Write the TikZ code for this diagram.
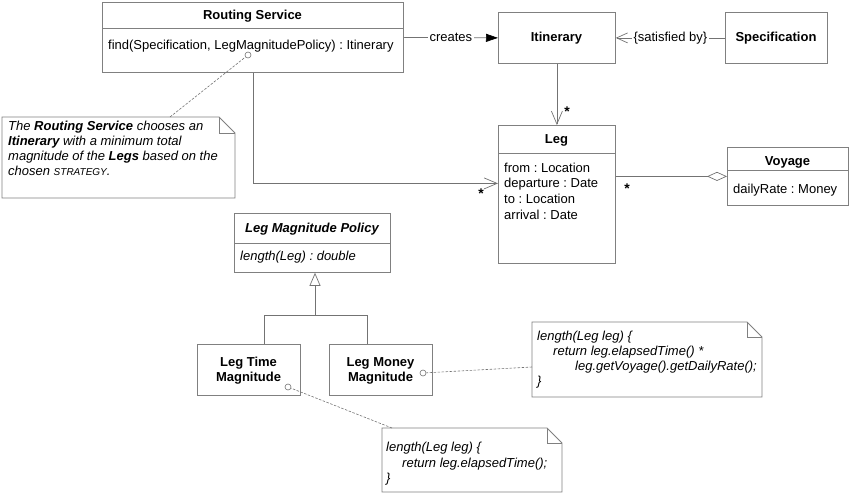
\documentclass[tikz,border=0pt]{standalone}
\usepackage{fontspec}
\setmainfont{Liberation Sans}
\usetikzlibrary{arrows.meta}
\definecolor{boxc}{gray}{0.5}
\definecolor{linec}{gray}{0.45}
\frenchspacing
\begin{document}
\begin{tikzpicture}[x=1pt,y=-1pt,
  box/.style={draw=boxc, line width=0.8pt, anchor=north west, inner sep=0pt, fill=white},
  txt/.style={inner sep=0pt, font=\fontsize{13}{15.7}\selectfont},
  btxt/.style={inner sep=0pt, font=\fontsize{13}{15.7}\selectfont\bfseries},
  itxt/.style={inner sep=0pt, font=\fontsize{13}{15.7}\selectfont\itshape},
  star/.style={inner sep=0pt, font=\fontsize{14}{16}\selectfont\bfseries},
  conn/.style={draw=linec, line width=0.7pt},
  note/.style={draw=boxc, line width=0.8pt, fill=white},
  anchorline/.style={draw=linec, line width=0.6pt, dash pattern=on 2.5pt off 1.5pt},
  knob/.style={circle, draw=linec, line width=0.6pt, fill=white, minimum size=6pt, inner sep=0pt},
  lbl/.style={inner sep=2pt, fill=white, font=\fontsize{13}{15.7}\selectfont},
  divider/.style={draw=boxc, line width=0.8pt}
]
\useasboundingbox (0,0) rectangle (850,494);

% ---- boxes ----
\node[box, minimum width=301pt, minimum height=70pt] (rs) at (102,2) {};
\node[box, minimum width=117pt, minimum height=51pt] (itin) at (498,12) {};
\node[box, minimum width=102pt, minimum height=51pt] (spec) at (725,12) {};
\node[box, minimum width=117pt, minimum height=138pt] (leg) at (498,125) {};
\node[box, minimum width=121pt, minimum height=58pt] (voy) at (727,147) {};
\node[box, minimum width=156pt, minimum height=59pt] (pol) at (234,213) {};
\node[box, minimum width=103pt, minimum height=51pt] (ltm) at (197,344) {};
\node[box, minimum width=103pt, minimum height=51pt] (lmm) at (329,344) {};

% dividers
\draw[divider] (rs.west |- 0,28) -- (rs.east |- 0,28);
\draw[divider] (leg.west |- 0,153) -- (leg.east |- 0,153);
\draw[divider] (voy.west |- 0,170) -- (voy.east |- 0,170);
\draw[divider] (pol.west |- 0,243) -- (pol.east |- 0,243);

% ---- box texts ----
\node[btxt, anchor=base] (rst) at (252.5,19.5) {Routing Service};
\node[txt, anchor=base west] (rsm) at (108,49.5) {find(Specification, LegMagnitudePolicy) : Itinerary};
\node[btxt, anchor=base] (itt) at (556.5,41.5) {Itinerary};
\node[btxt, anchor=base] (spt) at (776,41.5) {Specification};
\node[btxt, anchor=base] (legt) at (556.5,143.5) {Leg};
\node[txt, anchor=base west] (la1) at (504,172.5) {from : Location};
\node[txt, anchor=base west] (la2) at (504,188) {departure : Date};
\node[txt, anchor=base west] (la3) at (504,203.5) {to : Location};
\node[txt, anchor=base west] (la4) at (504,219) {arrival : Date};
\node[btxt, anchor=base] (voyt) at (787.5,166) {Voyage};
\node[txt, anchor=base west] (voya) at (733,194) {dailyRate : Money};
\node[btxt, font=\fontsize{13}{15.7}\selectfont\bfseries\itshape, anchor=base] (polt) at (312,232.5) {Leg Magnitude Policy};
\node[itxt, anchor=base west] (polm) at (240,260.5) {length(Leg) : double};
\node[btxt, anchor=base] (ltm1) at (248.5,366.5) {Leg Time};
\node[btxt, anchor=base] (ltm2) at (248.5,381.5) {Magnitude};
\node[btxt, anchor=base] (lmm1) at (380.5,366.5) {Leg Money};
\node[btxt, anchor=base] (lmm2) at (380.5,381.5) {Magnitude};

% ---- connectors ----
\draw[conn, -{Triangle[length=12pt,width=8pt,fill=black,color=black]}] (rs.east) -- node[lbl] {creates} (itin.west);
\draw[conn, -{Straight Barb[length=11pt,width=10pt]}] (spec.west) -- node[lbl] {\{satisfied by\}} (itin.east);
\draw[conn, -{Straight Barb[length=13pt,width=11pt]}] (itin.south) -- (leg.north);
\node[star] (s1) at (567,112) {*};
\draw[conn, -{Straight Barb[length=13pt,width=11pt]}] ([xshift=0.5pt]rs.south) |- ([yshift=11pt]leg.west);
\node[star] (s2) at (481,194) {*};
\draw[conn, -{Diamond[open,length=20pt,width=9pt]}] (voy.west -| leg.east) -- (voy.west);
\node[star] (s3) at (627,189) {*};

% generalization
\coordinate (gj) at (315,315);
\draw[conn] ([xshift=15.5pt]ltm.north) |- ([xshift=-13.5pt]lmm.north |- gj) -- ([xshift=-13.5pt]lmm.north);
\draw[conn, -{Triangle[open,length=13pt,width=11pt]}, fill=white] (gj) -- (gj |- pol.south);

% ---- notes ----
\draw[note] (2,117) -- (219,117) -- (235,133) -- (235,198) -- (2,198) -- cycle;
\draw[draw=boxc, line width=0.8pt] (219,117) -- (219,133) -- (235,133);
\coordinate (n1) at (170,117);
\node[itxt, anchor=base west] at (8,130.5) {The \textbf{Routing Service} chooses an};
\node[itxt, anchor=base west] at (8,145.5) {\textbf{Itinerary} with a minimum total};
\node[itxt, anchor=base west] at (8,160.5) {magnitude of the \textbf{Legs} based on the};
\node[itxt, anchor=base west] at (8,175.5) {chosen {\fontsize{10}{12}\selectfont STRATEGY}.};

\draw[note] (532,322) -- (747,322) -- (762,337) -- (762,397) -- (532,397) -- cycle;
\draw[draw=boxc, line width=0.8pt] (747,322) -- (747,337) -- (762,337);
\coordinate (n3) at (532,367);
\node[itxt, anchor=base west] at (537,340) {length(Leg leg) \{};
\node[itxt, anchor=base west] at (553,355) {return leg.elapsedTime() *};
\node[itxt, anchor=base west] at (575,370) {leg.getVoyage().getDailyRate();};
\node[itxt, anchor=base west] at (537,385) {\}};

\draw[note] (382,428) -- (547,428) -- (562,443) -- (562,492) -- (382,492) -- cycle;
\draw[draw=boxc, line width=0.8pt] (547,428) -- (547,443) -- (562,443);
\coordinate (n2) at (392,428);
\node[itxt, anchor=base west] at (386,451) {length(Leg leg) \{};
\node[itxt, anchor=base west] at (402,467) {return leg.elapsedTime();};
\node[itxt, anchor=base west] at (386,482.5) {\}};

% ---- note anchors ----
\node[knob] (k1) at (248,55) {};
\node[knob] (k2) at (288,387) {};
\node[knob] (k3) at (423,373) {};
\draw[anchorline] (n1) -- (k1);
\draw[anchorline] (n2) -- (k2);
\draw[anchorline] (n3) -- (k3);
\end{tikzpicture}
\end{document}
